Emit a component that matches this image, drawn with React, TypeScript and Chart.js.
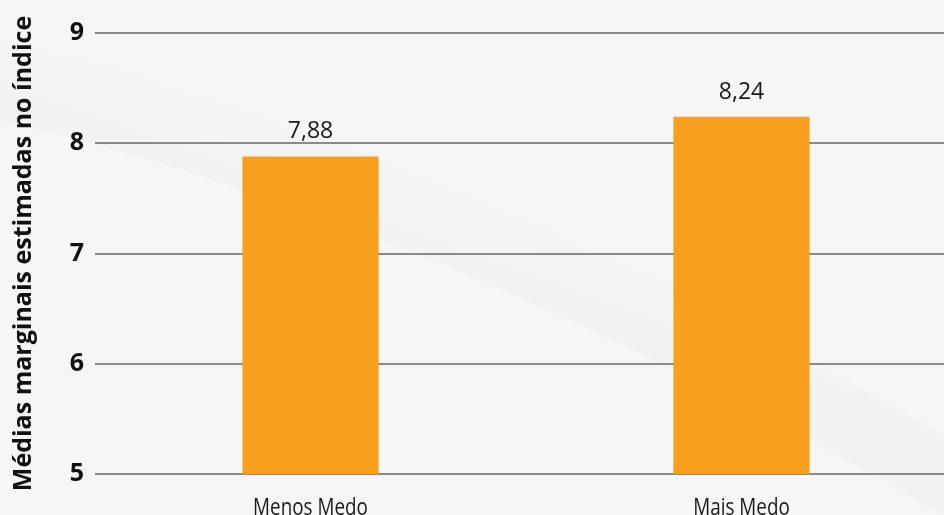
import React, { useEffect, useRef } from "react";
import { Chart, registerables } from "chart.js";

Chart.register(...registerables);

const categories = ["Menos Medo", "Mais Medo"];
const values = [7.88, 8.24];
const valueLabels = ["7,88", "8,24"];
const yTitle = "Médias marginais estimadas no índice";
const yMin = 5;
const yMax = 9;

const bgPlugin = {
  id: "bg",
  beforeDraw(chart: any) {
    const { ctx, width, height } = chart;
    ctx.save();
    ctx.fillStyle = "#f6f6f6";
    ctx.fillRect(0, 0, width, height);
    // very faint darker band above a sweeping curve
    const g = ctx.createLinearGradient(500, 150, 460, 260);
    g.addColorStop(0, "rgba(234,234,234,0)");
    g.addColorStop(1, "rgba(234,234,234,0.3)");
    ctx.fillStyle = g;
    ctx.beginPath();
    ctx.moveTo(0, 40);
    ctx.bezierCurveTo(250, 100, 560, 210, 960, 445);
    ctx.lineTo(960, 525);
    ctx.bezierCurveTo(560, 290, 250, 180, 0, 120);
    ctx.closePath();
    ctx.fill();
    ctx.restore();
  },
};

const labelPlugin = {
  id: "valueLabels",
  afterDatasetsDraw(chart: any) {
    const { ctx } = chart;
    const meta = chart.getDatasetMeta(0);
    ctx.save();
    ctx.font = "23px 'Open Sans', sans-serif";
    ctx.fillStyle = "#1a1a1a";
    ctx.textAlign = "center";
    ctx.textBaseline = "alphabetic";
    meta.data.forEach((bar: any, i: number) => {
      ctx.fillText(valueLabels[i], bar.x, bar.y - 18);
    });
    ctx.restore();
  },
  afterDraw(chart: any) {
    const { ctx } = chart;
    const xs = chart.scales.x;
    ctx.save();
    ctx.font = "23px 'Open Sans', sans-serif";
    ctx.fillStyle = "#1a1a1a";
    ctx.textAlign = "center";
    ctx.textBaseline = "alphabetic";
    categories.forEach((c, i) => {
      const x = xs.getPixelForTick(i);
      ctx.save();
      ctx.translate(x, 515);
      ctx.scale(0.82, 1);
      ctx.fillText(c, 0, 0);
      ctx.restore();
    });
    ctx.restore();
  },
};

export default function App() {
  const ref = useRef<HTMLCanvasElement>(null);
  useEffect(() => {
    if (!ref.current) return;
    const chart = new Chart(ref.current, {
      type: "bar",
      data: {
        labels: categories,
        datasets: [
          {
            data: values,
            backgroundColor: "#f89f1d",
            borderWidth: 0,
            barPercentage: 0.316,
            categoryPercentage: 1,
          },
        ],
      },
      options: {
        animation: false,
        responsive: false,
        layout: { padding: { top: 33, right: 0, left: 0, bottom: 0 } },
        plugins: { legend: { display: false }, tooltip: { enabled: false } },
        scales: {
          x: {
            grid: { display: false, drawTicks: false },
            border: { display: false },
            ticks: {
              padding: 18,
              color: "rgba(0,0,0,0)",
              font: { family: "'Open Sans', sans-serif", size: 22 },
            },
            afterFit(scale: any) {
              scale.height = 41;
            },
          },
          y: {
            min: yMin,
            max: yMax,
            ticks: {
              stepSize: 1,
              padding: 11,
              color: "#111",
              font: { family: "'Open Sans', sans-serif", size: 25, weight: "bold" },
            },
            grid: { color: "#8a8a8a", lineWidth: 2, drawTicks: false },
            border: { display: false },
            title: {
              display: true,
              text: yTitle,
              color: "#111",
              padding: { top: 9, bottom: 0 },
              font: { family: "'Open Sans', sans-serif", size: 25, weight: "bold" },
            },
            afterFit(scale: any) {
              scale.width = 95;
            },
          },
        },
      },
      plugins: [bgPlugin, labelPlugin],
    });
    return () => chart.destroy();
  }, []);
  return (
    <div style={{ position: "fixed", left: 0, top: 0, width: 957, height: 515, overflow: "hidden" }}>
      <canvas ref={ref} width={957} height={515} style={{ display: "block" }} />
    </div>
  );
}
